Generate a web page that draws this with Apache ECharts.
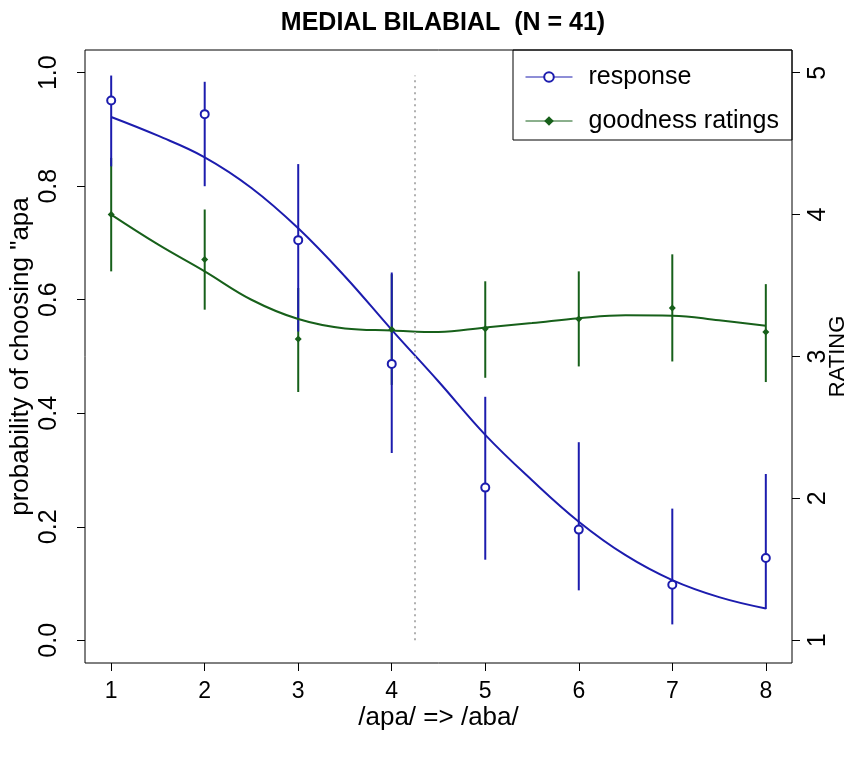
<!DOCTYPE html>
<html>
    <head>
        <meta charset="utf-8">
        <script src="https://cdn.jsdelivr.net/npm/echarts@6/dist/echarts.min.js"></script>
    </head>
    <body>
        <style>
            html, body {
                margin: 0;
                background: #fff;
            }
            #main {
                width: 850px;
                height: 757px;
            }
        </style>
        <div id="main"></div>

        <script>
            // stimulus steps /apa/ -> /aba/
            var steps = [1, 2, 3, 4, 5, 6, 7, 8];

            // proportion "apa" responses, with error bars
            var respMean = [0.951, 0.927, 0.705, 0.487, 0.269, 0.195, 0.098, 0.145];
            var respLow  = [0.835, 0.800, 0.544, 0.330, 0.142, 0.088, 0.028, 0.055];
            var respHigh = [0.995, 0.984, 0.839, 0.648, 0.429, 0.349, 0.232, 0.293];

            // goodness ratings (right axis), with error bars
            var rateMean = [4.00, 3.683, 3.123, 3.19, 3.196, 3.264, 3.342, 3.172];
            var rateLow  = [3.60, 3.33, 2.75, 2.80, 2.85, 2.93, 2.965, 2.82];
            var rateHigh = [4.40, 4.036, 3.483, 3.58, 3.53, 3.60, 3.72, 3.51];

            var fitX    = [1, 1.5, 2, 2.5, 3, 3.5, 4, 4.5, 5, 5.5, 6, 6.5, 7, 7.5, 8];
            var respFit = [0.922, 0.889, 0.851, 0.797, 0.726, 0.641, 0.547, 0.456, 0.362, 0.282, 0.209, 0.150, 0.106, 0.076, 0.056];
            var rateFit = [4.00, 3.79, 3.60, 3.40, 3.264, 3.198, 3.184, 3.172, 3.205, 3.236, 3.27, 3.29, 3.288, 3.255, 3.217];

            // category boundary (dotted line)
            var boundaryX = 4.25;
            var boundaryRange = [0, 0.995];

            var xTicks = [1, 2, 3, 4, 5, 6, 7, 8];
            var probTicks = [0, 0.2, 0.4, 0.6, 0.8, 1.0];
            var rateTicks = [1, 2, 3, 4, 5];

            var BLUE = '#1c1cae';
            var GREEN = '#17601a';
            var FONT = 'Liberation Sans';

            function zip(a, b) {
                return a.map(function (v, i) { return [v, b[i]]; });
            }
            function zip3(a, b, c) {
                return a.map(function (v, i) { return [v, b[i], c[i]]; });
            }
            function errBar(color) {
                return function (params, api) {
                    var p1 = api.coord([api.value(0), api.value(1)]);
                    var p2 = api.coord([api.value(0), api.value(2)]);
                    return {
                        type: 'line',
                        shape: {x1: p1[0], y1: p1[1], x2: p2[0], y2: p2[1]},
                        style: {stroke: color, lineWidth: 2}
                    };
                };
            }

            var chart = echarts.init(document.getElementById('main'));

            chart.setOption({
                animation: false,
                title: {
                    text: 'MEDIAL BILABIAL  (N = 41)',
                    left: 438,
                    top: 6,
                    textAlign: 'center',
                    textStyle: {fontFamily: FONT, fontSize: 25, fontWeight: 'bold', color: '#000'}
                },
                legend: {
                    orient: 'vertical',
                    left: 520,
                    top: 59,
                    itemWidth: 47,
                    itemHeight: 12,
                    itemGap: 18,
                    textStyle: {fontFamily: FONT, fontSize: 25, color: '#000', lineHeight: 26, padding: [0, 0, 0, 11]},
                    data: [
                        {name: 'response', lineStyle: {opacity: 1, width: 1, color: BLUE}},
                        {name: 'goodness ratings', lineStyle: {opacity: 1, width: 1, color: GREEN}}
                    ]
                },
                graphic: [{
                    type: 'rect',
                    shape: {x: 513, y: 50, width: 279, height: 90},
                    style: {fill: 'none', stroke: '#000', lineWidth: 1},
                    z: 10
                }],
                grid: {
                    left: 85,
                    right: 58,
                    top: 50,
                    bottom: 94,
                    show: true,
                    borderColor: '#000',
                    borderWidth: 1,
                    containLabel: false,
                    outerBoundsMode: 'none'
                },
                xAxis: {
                    type: 'value',
                    min: 0.72,
                    max: 8.28,
                    name: '/apa/ => /aba/',
                    nameLocation: 'middle',
                    nameGap: 42,
                    nameMoveOverlap: false,
                    nameTextStyle: {fontFamily: FONT, fontSize: 26, color: '#000'},
                    axisLine: {show: false, onZero: false},
                    axisTick: {show: true, length: 8, customValues: xTicks, lineStyle: {color: '#000'}},
                    axisLabel: {customValues: xTicks, margin: 17, fontFamily: FONT, fontSize: 23, color: '#000'},
                    splitLine: {show: false}
                },
                yAxis: [{
                    type: 'value',
                    min: -0.04,
                    max: 1.04,
                    name: 'probability of choosing "apa',
                    nameLocation: 'middle',
                    nameGap: 51,
                    nameMoveOverlap: false,
                    nameTextStyle: {fontFamily: FONT, fontSize: 26, color: '#000'},
                    axisLine: {show: false, onZero: false},
                    axisTick: {show: true, length: 8, customValues: probTicks, lineStyle: {color: '#000'}},
                    axisLabel: {
                        customValues: probTicks,
                        rotate: 90,
                        margin: 23,
                        fontFamily: FONT,
                        fontSize: 25,
                        color: '#000',
                        formatter: function (v) { return v.toFixed(1); }
                    },
                    splitLine: {show: false}
                }, {
                    type: 'value',
                    position: 'right',
                    min: 0.84,
                    max: 5.16,
                    name: 'RATING',
                    nameLocation: 'middle',
                    nameGap: 35,
                    nameMoveOverlap: false,
                    nameTextStyle: {fontFamily: FONT, fontSize: 22, color: '#000'},
                    axisLine: {show: false, onZero: false},
                    axisTick: {show: true, length: 8, customValues: rateTicks, lineStyle: {color: '#000'}},
                    axisLabel: {customValues: rateTicks, rotate: 90, margin: 14, fontFamily: FONT, fontSize: 25, color: '#000'},
                    splitLine: {show: false}
                }],
                series: [{
                    name: 'boundary',
                    type: 'line',
                    data: [],
                    markLine: {
                        silent: true,
                        symbol: 'none',
                        label: {show: false},
                        lineStyle: {color: '#b0b0b0', type: [2, 4], width: 2},
                        data: [[{coord: [boundaryX, boundaryRange[0]]}, {coord: [boundaryX, boundaryRange[1]]}]]
                    }
                }, {
                    name: 'rateFit',
                    type: 'line',
                    yAxisIndex: 1,
                    data: zip(fitX, rateFit),
                    smooth: 0.4,
                    symbol: 'none',
                    lineStyle: {color: GREEN, width: 2}
                }, {
                    name: 'rateErr',
                    type: 'custom',
                    yAxisIndex: 1,
                    data: zip3(steps, rateLow, rateHigh),
                    renderItem: errBar(GREEN)
                }, {
                    name: 'goodness ratings',
                    type: 'line',
                    yAxisIndex: 1,
                    data: zip(steps, rateMean),
                    symbol: 'diamond',
                    symbolSize: 7,
                    itemStyle: {color: GREEN},
                    lineStyle: {opacity: 0}
                }, {
                    name: 'respFit',
                    type: 'line',
                    data: zip(fitX, respFit),
                    smooth: 0.4,
                    symbol: 'none',
                    lineStyle: {color: BLUE, width: 2}
                }, {
                    name: 'respErr',
                    type: 'custom',
                    data: zip3(steps, respLow, respHigh),
                    renderItem: errBar(BLUE)
                }, {
                    name: 'response',
                    type: 'line',
                    data: zip(steps, respMean),
                    symbol: 'emptyCircle',
                    symbolSize: 8,
                    itemStyle: {color: BLUE, borderWidth: 1.5},
                    lineStyle: {opacity: 0}
                }]
            });
        </script>
    </body>
</html>
